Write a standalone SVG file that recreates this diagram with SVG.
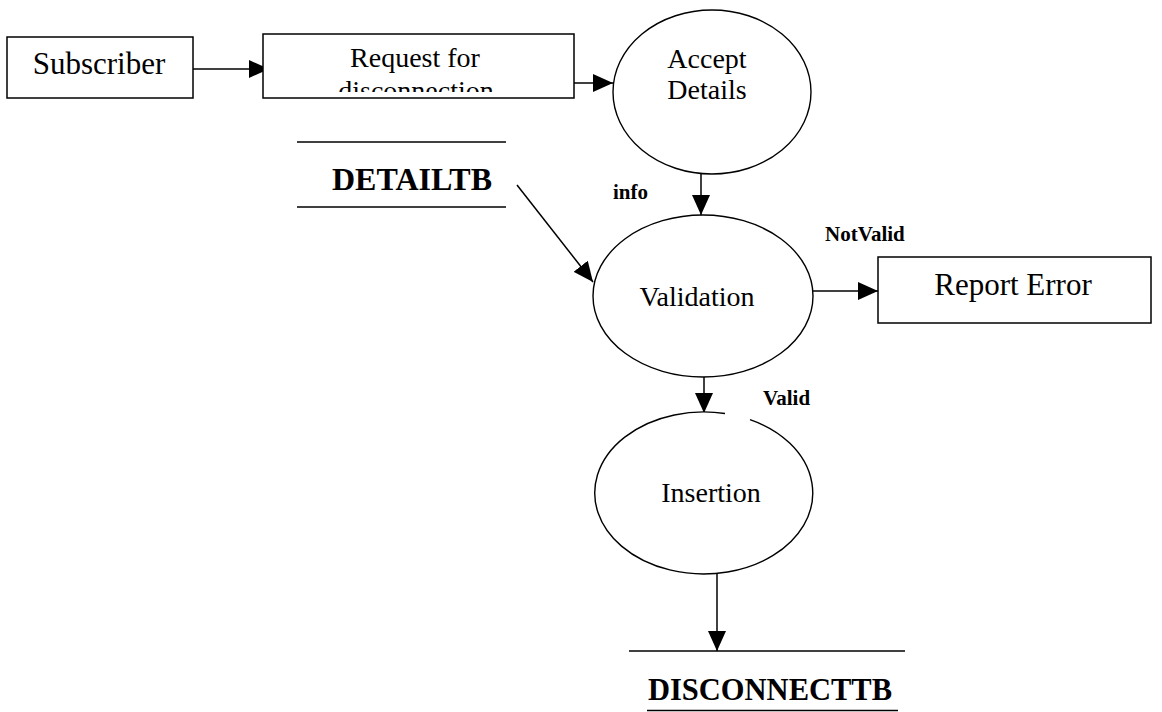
<svg xmlns="http://www.w3.org/2000/svg" width="1162" height="712" viewBox="0 0 1162 712">
  <style>
    .box { fill: #fff; stroke: #000; stroke-width: 1.5; }
    .proc { fill: #fff; stroke: #000; stroke-width: 1.4; }
    .store { stroke: #000; stroke-width: 1.6; }
    .flow { fill: none; stroke: #000; stroke-width: 1.5; marker-end: url(#arrow); }
    .lbl { font-family: "Liberation Serif", "Times New Roman", serif; font-size: 28px; fill: #000; text-anchor: middle; }
    .big { font-size: 31px; }
    .tb { font-family: "Liberation Serif", "Times New Roman", serif; font-weight: bold; fill: #000; }
    .flowlbl { font-family: "Liberation Serif", "Times New Roman", serif; font-weight: bold; font-size: 21px; fill: #000; }
  </style>
  <defs>
    <marker id="arrow" markerUnits="userSpaceOnUse" markerWidth="20" markerHeight="18" refX="20" refY="9" orient="auto">
      <path d="M0,0 L20,9 L0,18 z" fill="#000"/>
    </marker>
    <clipPath id="reqClip">
      <rect x="263" y="34" width="311" height="58"/>
    </clipPath>
  </defs>
  <rect width="1162" height="712" fill="#fff"/>

  <!-- connectors -->
  <g id="connectors">
    <line class="flow" x1="193" y1="69" x2="269" y2="69"/>
    <line class="flow" x1="574" y1="83" x2="613" y2="83"/>
    <line class="flow" x1="701" y1="174" x2="701" y2="215"/>
    <line class="flow" x1="517" y1="185" x2="593" y2="282"/>
    <line class="flow" x1="813" y1="291" x2="878" y2="291"/>
    <line class="flow" x1="704" y1="377" x2="704" y2="413"/>
    <line class="flow" x1="717" y1="574" x2="717" y2="651"/>
    <text class="flowlbl" x="613" y="199">info</text>
    <text class="flowlbl" x="825" y="241">NotValid</text>
    <text class="flowlbl" x="763" y="405">Valid</text>
  </g>

  <!-- external entity -->
  <g id="subscriber">
    <rect class="box" x="7" y="37" width="186" height="61"/>
    <text class="lbl big" x="99" y="74">Subscriber</text>
  </g>

  <!-- request box (second line clipped by the box) -->
  <g id="request">
    <rect class="box" x="263" y="34" width="311" height="64"/>
    <text class="lbl" x="415" y="67">Request for</text>
    <text class="lbl" x="416" y="100" clip-path="url(#reqClip)">disconnection</text>
  </g>

  <g id="accept-details">
    <ellipse class="proc" cx="712" cy="92" rx="99" ry="82"/>
    <text class="lbl" x="707" y="68">Accept</text>
    <text class="lbl" x="707" y="99">Details</text>
  </g>

  <g id="detailtb">
    <line class="store" x1="297" y1="142" x2="506" y2="142"/>
    <line class="store" x1="297" y1="207" x2="506" y2="207"/>
    <text class="tb" x="412" y="190" font-size="32" text-anchor="middle">DETAILTB</text>
  </g>

  <g id="validation">
    <ellipse class="proc" cx="703" cy="296" rx="110" ry="81"/>
    <text class="lbl" x="697" y="306">Validation</text>
  </g>

  <g id="report-error">
    <rect class="box" x="878" y="257" width="273" height="66"/>
    <text class="lbl big" x="1013" y="295">Report Error</text>
  </g>

  <g id="insertion">
    <path class="proc" d="M750,419.6 A109,81 0 1 1 725,413.5"/>
    <text class="lbl" x="711" y="502">Insertion</text>
  </g>

  <g id="disconnecttb">
    <line class="store" x1="629" y1="651" x2="905" y2="651"/>
    <text class="tb" x="770" y="700" font-size="30.5" text-anchor="middle">DISCONNECTTB</text>
    <line class="store" x1="647" y1="710.5" x2="898" y2="710.5"/>
  </g>
</svg>
